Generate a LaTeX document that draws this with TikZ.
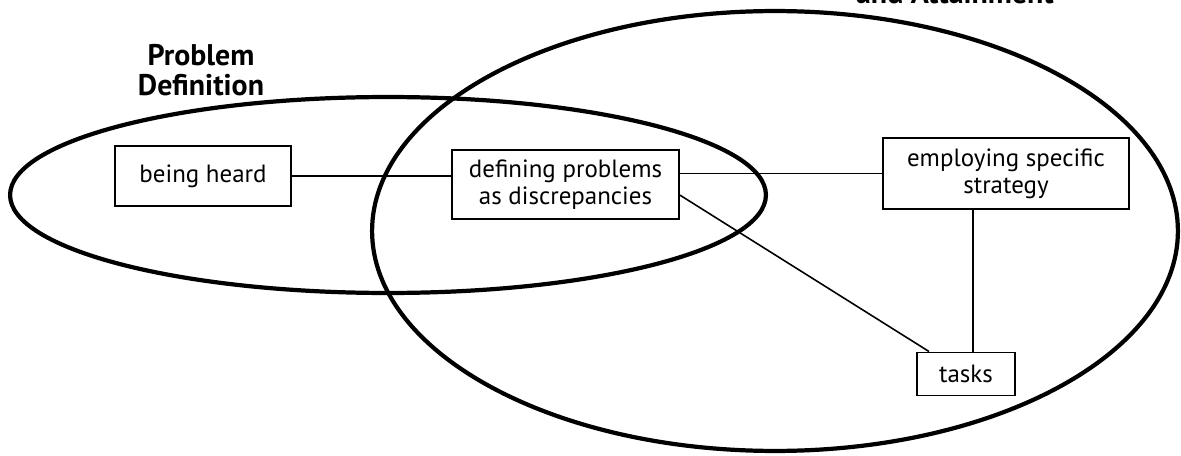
\documentclass[tikz,border=0pt]{standalone}
\usepackage{fontspec}
\setmainfont{PT Sans}
\usetikzlibrary{calc}
\tikzset{
  boxnode/.style={draw, line width=1.1pt, align=center, inner sep=1pt, font=\fontsize{14.2}{15.5}\selectfont},
  conn/.style={line width=0.9pt},
  oval/.style={line width=2.4pt},
  grouplabel/.style={align=center, font=\fontsize{17}{17}\selectfont\bfseries}
}
\begin{document}
\begin{tikzpicture}[x=0.02cm, y=-0.02cm]
\useasboundingbox (0,0) rectangle (1181,456);
% ovals
\draw[oval] (388,195) ellipse [x radius=7.56cm, y radius=1.96cm];
\draw[oval] (775,231) ellipse [x radius=8.06cm, y radius=4.4cm];
% labels
\node[grouplabel] (pd) at (201,70) {Problem\\Definition};
\node[grouplabel, anchor=base] (ga) at (955,4) {and Attainment};
% boxes
\node[boxnode, minimum width=3.52cm, minimum height=1.2cm] (bh) at (203,176) {being heard};
\node[boxnode, minimum width=4.54cm, minimum height=1.38cm] (def) at (565.5,184.5) {defining problems\\as discrepancies};
\node[boxnode, minimum width=4.92cm, minimum height=1.42cm] (emp) at (1006,173.5) {employing specific\\strategy};
\node[boxnode, minimum width=1.96cm, minimum height=0.86cm] (tasks) at (966,374) {tasks};
% connectors
\draw[conn] (bh.east) -- (bh.east -| def.west);
\draw[conn] (emp.west -| def.east) -- (emp.west);
\coordinate (dl) at ($(def.south east)!0.35!(def.north east)$);
\coordinate (tl) at ($(tasks.north west)!0.13!(tasks.north east)$);
\draw[conn] (dl) -- (tl);
\coordinate (es) at ($(emp.south west)!0.366!(emp.south east)$);
\draw[conn] (es) -- (es |- tasks.north);
\end{tikzpicture}
\end{document}
